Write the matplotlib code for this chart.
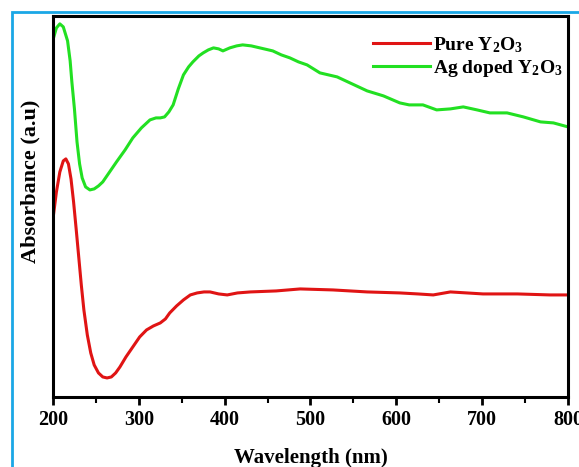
import matplotlib
matplotlib.use('Agg')
import matplotlib.pyplot as plt
from matplotlib.patches import Rectangle

# Ag doped Y2O3 (wavelength nm, absorbance a.u.)
wl_ag = [200, 204, 208, 212, 217, 220, 222, 225, 228, 231, 234, 238, 243,
         248, 253, 258, 266, 274, 284, 293, 303, 313, 320, 325, 330, 335,
         340, 346, 352, 358, 363, 370, 375, 381, 387, 393, 398, 406, 414,
         421, 431, 441, 456, 466, 476, 486, 496, 511, 521, 531, 546, 556,
         566, 585, 604, 615, 631, 647, 663, 678, 694, 709, 729, 748, 768,
         783, 800]
abs_ag = [3.57, 3.69, 3.73, 3.70, 3.56, 3.36, 3.15, 2.88, 2.55, 2.33, 2.19,
          2.10, 2.07, 2.08, 2.11, 2.15, 2.25, 2.35, 2.47, 2.59, 2.69, 2.77,
          2.79, 2.79, 2.80, 2.85, 2.92, 3.08, 3.22, 3.30, 3.35, 3.41, 3.44,
          3.47, 3.49, 3.48, 3.46, 3.49, 3.51, 3.52, 3.51, 3.49, 3.46, 3.42,
          3.39, 3.35, 3.32, 3.24, 3.22, 3.20, 3.14, 3.10, 3.06, 3.01, 2.94,
          2.92, 2.92, 2.87, 2.88, 2.90, 2.87, 2.84, 2.84, 2.80, 2.75, 2.74,
          2.70]

# Pure Y2O3
wl_pure = [200, 204, 208, 212, 215, 218, 221, 224, 227, 230, 233, 236, 240,
           244, 248, 253, 258, 263, 268, 273, 278, 285, 293, 301, 309, 317,
           325, 331, 336, 344, 352, 360, 368, 376, 383, 393, 403, 415, 430,
           460, 488, 526, 566, 604, 625, 643, 663, 682, 701, 741, 779, 800]
abs_pure = [1.78, 2.05, 2.25, 2.36, 2.38, 2.33, 2.18, 1.95, 1.68, 1.40, 1.12,
            0.87, 0.62, 0.44, 0.32, 0.24, 0.20, 0.19, 0.20, 0.24, 0.30, 0.40,
            0.50, 0.60, 0.67, 0.71, 0.74, 0.78, 0.84, 0.91, 0.97, 1.02, 1.04,
            1.05, 1.05, 1.03, 1.02, 1.04, 1.05, 1.06, 1.08, 1.07, 1.05, 1.04,
            1.03, 1.02, 1.05, 1.04, 1.03, 1.03, 1.02, 1.02]

plt.rcParams['font.family'] = ['Liberation Serif', 'DejaVu Serif']
plt.rcParams['font.weight'] = 'bold'
plt.rcParams['mathtext.fontset'] = 'custom'
plt.rcParams['mathtext.rm'] = 'Liberation Serif:bold'
plt.rcParams['mathtext.it'] = 'Liberation Serif:bold'
plt.rcParams['mathtext.bf'] = 'Liberation Serif:bold'

fig = plt.figure(figsize=(5.79, 4.67), dpi=100)
ax = fig.add_axes([0.0915, 0.15, 0.8895, 0.816])

ax.plot(wl_pure, abs_pure, color='#e01414', lw=2.2, label='Pure Y$_2$O$_3$')
ax.plot(wl_ag, abs_ag, color='#22e022', lw=2.2, label='Ag doped Y$_2$O$_3$')

ax.set_xlim(200, 800)
ax.set_ylim(0, 3.81)
ax.set_xticks(range(200, 801, 100))
ax.set_xticks(range(250, 800, 100), minor=True)
ax.set_yticks([])
ax.tick_params(axis='x', which='major', direction='out', length=6, width=2,
               labelsize=14.5)
ax.tick_params(axis='x', which='minor', direction='out', length=4, width=1.5)
for s in ax.spines.values():
    s.set_linewidth(2.2)

ax.set_xlabel('Wavelength (nm)', fontsize=15, fontweight='bold', labelpad=13)
ax.set_ylabel('Absorbance (a.u)', fontsize=16, fontweight='bold')
ax.yaxis.set_label_coords(-0.024, 0.567)

leg = ax.legend(loc='upper right', bbox_to_anchor=(1.012, 0.98), frameon=False,
                fontsize=14, handlelength=2.9, handletextpad=0.15,
                labelspacing=0.15, borderaxespad=0.2)

# light blue frame around the figure
fig.patches.append(Rectangle((12 / 579, -0.1), 1.2, 1 - 12 / 467 + 0.1,
                             transform=fig.transFigure, fill=False,
                             edgecolor='#1aa7e6', lw=2))

fig.savefig('out.png', dpi=100)
